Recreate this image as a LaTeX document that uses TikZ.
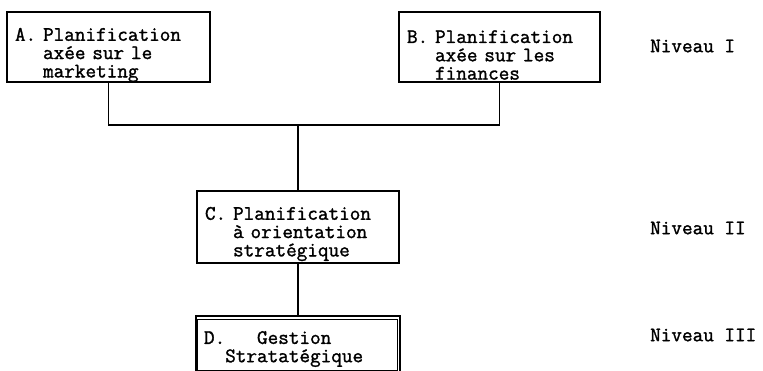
\documentclass[tikz,border=0pt]{standalone}
\usepackage{fontspec}
\newfontfamily\typew{Latin Modern Mono}[FakeBold=1.4]
\begin{document}
\begin{tikzpicture}[x=1pt,y=-1pt,
  every node/.style={font=\fontsize{20.6}{18.3}\selectfont\typew},
  box/.style={draw,line width=1.6pt,rectangle,inner sep=0pt},
  txt/.style={align=left,inner sep=0pt},
  link/.style={line width=1.3pt},
  level/.style={anchor=west,inner sep=0pt}]
\useasboundingbox (0,0) rectangle (763,370);
\clip (0,0) rectangle (763,370);
% first level: marketing and finance planning
\node[box,minimum width=203pt,minimum height=70pt] (A) at (108.5,47) {};
\node[txt,text width=187pt] (At) at ([shift={(0,8)}]A.center)
  {A.~Planification\\\phantom{A.~}axée sur le\\\phantom{A.~}marketing};
\node[box,minimum width=201pt,minimum height=70pt] (B) at (499.5,47) {};
\node[txt,text width=187pt] (Bt) at ([shift={(1,8)}]B.center)
  {B.~Planification\\\phantom{B.~}axée sur les\\\phantom{B.~}finances};
% second level
\node[box,minimum width=202pt,minimum height=72pt] (C) at (298,227) {};
\node[txt,text width=186pt] (Ct) at ([shift={(0,7)}]C.center)
  {C.~Planification\\\phantom{C.~}à orientation\\\phantom{C.~}stratégique};
% third level, framed twice
\node[box,minimum width=204pt,minimum height=56pt] (D) at (298,344) {};
\node[txt,text width=188pt] (Dt) at ([shift={(0,5)}]D.center)
  {D.\phantom{xxx}Gestion\\\phantom{xx}Stratatégique};
\draw[line width=0.9pt] ([shift={(2.5,4)}]D.north west) rectangle ([shift={(-3,-2)}]D.south east);
% connectors
\coordinate (J) at (C.north |- 0,125);
\draw[link] (A.south) |- (J);
\draw[link] (B.south) |- (J);
\draw[link] (J) -- (C.north);
\draw[link] (C.south) -- (D.north);
% level labels
\node[level] (n1) at (650,46) {Niveau I};
\node[level] (n2) at (650,228) {Niveau II};
\node[level] (n3) at (650,335) {Niveau III};
\end{tikzpicture}
\end{document}
